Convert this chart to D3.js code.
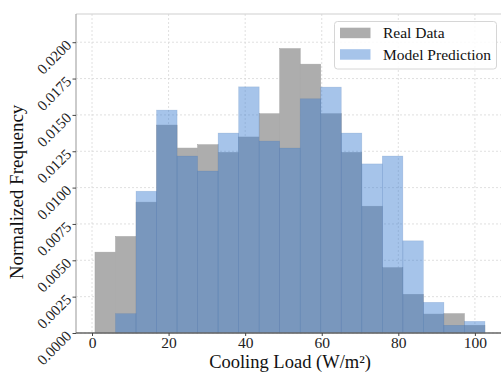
<!DOCTYPE html>
<html>
<head>
<meta charset="utf-8">
<script src="https://cdn.jsdelivr.net/npm/d3@7.9.0/dist/d3.min.js"></script>
<style>
  html, body { margin: 0; padding: 0; background: #fff; }
  svg { display: block; font-family: 'Liberation Serif', 'DejaVu Serif', serif; }
</style>
</head>
<body>
<div id="chart"></div>
<script>
// bin edges shared by both histograms
const binEdges = [0.78, 6.14, 11.50, 16.86, 22.22, 27.58, 32.94, 38.30, 43.66, 49.02,
  54.38, 59.74, 65.10, 70.46, 75.82, 81.18, 86.54, 91.90, 97.26, 102.62];
const realData = [0.00556, 0.00664, 0.0090, 0.0143, 0.01272, 0.01295, 0.01242, 0.01348, 0.01508, 0.01956,
  0.01849, 0.01508, 0.01242, 0.00872, 0.00449, 0.00266, 0.0013, 0.00133, 0.00053];
const modelPred = [0, 0.00133, 0.00975, 0.01533, 0.01217, 0.01114, 0.01375, 0.01693, 0.0132, 0.01272,
  0.01611, 0.01691, 0.01375, 0.01163, 0.01217, 0.00634, 0.00211, 0.00053, 0.0008];
const xTicks = [0, 20, 40, 60, 80, 100];
const yTicks = [0, 0.0025, 0.005, 0.0075, 0.01, 0.0125, 0.015, 0.0175, 0.02];
const seriesNames = ['Real Data', 'Model Prediction'];

const W = 501, H = 374;
const m = {left: 76, top: 14, right: 504, bottom: 333};

const svg = d3.select('#chart').append('svg')
  .attr('width', W).attr('height', H);

const x = d3.scaleLinear().domain([-4.18, 107.6]).range([m.left, m.right]);
const y = d3.scaleLinear().domain([0, 0.02194]).range([m.bottom, m.top]);

// grid
const grid = svg.append('g').attr('class', 'grid')
  .attr('stroke', '#d8d8d8').attr('stroke-width', 0.8).attr('stroke-dasharray', '2,2');
grid.selectAll('line.gx').data(xTicks).join('line')
  .attr('x1', d => x(d)).attr('x2', d => x(d))
  .attr('y1', m.top).attr('y2', m.bottom);
grid.selectAll('line.gy').data(yTicks).join('line')
  .attr('x1', m.left).attr('x2', m.right)
  .attr('y1', d => y(d)).attr('y2', d => y(d));

const bins = (vals) => vals.map((v, i) => ({x0: binEdges[i], x1: binEdges[i + 1], v}))
  .filter(d => d.v > 0);

svg.append('g').selectAll('rect').data(bins(realData)).join('rect')
  .attr('x', d => x(d.x0)).attr('width', d => x(d.x1) - x(d.x0))
  .attr('y', d => y(d.v)).attr('height', d => y(0) - y(d.v))
  .attr('fill', '#adadad')
  .attr('stroke', '#a3a3a3').attr('stroke-width', 0.5);

svg.append('g').selectAll('rect').data(bins(modelPred)).join('rect')
  .attr('x', d => x(d.x0)).attr('width', d => x(d.x1) - x(d.x0))
  .attr('y', d => y(d.v)).attr('height', d => y(0) - y(d.v))
  .attr('fill', 'rgb(62,127,209)').attr('fill-opacity', 0.46)
  .attr('stroke', 'rgba(62,110,170,0.25)').attr('stroke-width', 0.6);

// spines
svg.append('line').attr('x1', m.left).attr('x2', W).attr('y1', m.top).attr('y2', m.top)
  .attr('stroke', '#cfcfcf').attr('stroke-width', 1.2);
svg.append('line').attr('x1', m.left).attr('x2', m.left).attr('y1', m.top).attr('y2', m.bottom)
  .attr('stroke', '#a8a8a8').attr('stroke-width', 1.2);
svg.append('line').attr('x1', m.left).attr('x2', W).attr('y1', m.bottom).attr('y2', m.bottom)
  .attr('stroke', '#666').attr('stroke-width', 1.5);

// x axis
const xAxis = svg.append('g').attr('transform', `translate(0,${m.bottom})`)
  .call(d3.axisBottom(x).tickValues(xTicks).tickSize(3).tickPadding(1).tickFormat(d3.format('d')));
xAxis.select('.domain').remove();
xAxis.selectAll('.tick line').attr('stroke', '#444');
xAxis.selectAll('.tick text').attr('font-family', 'Liberation Serif, serif')
  .attr('font-size', 15.5).attr('fill', '#222');

// y axis
const yAxis = svg.append('g').attr('transform', `translate(${m.left},0)`)
  .call(d3.axisLeft(y).tickValues(yTicks).tickSize(3.5).tickFormat(d3.format('.4f')));
yAxis.select('.domain').remove();
yAxis.selectAll('.tick line').attr('stroke', '#444');
yAxis.selectAll('.tick text')
  .attr('font-family', 'Liberation Serif, serif').attr('font-size', 15).attr('fill', '#222')
  .attr('x', -7).attr('dy', '0.32em').attr('text-anchor', 'end')
  .attr('transform', 'rotate(-45,-7,0)');

// axis titles
svg.append('text').attr('x', 290).attr('y', 368).attr('text-anchor', 'middle')
  .attr('font-size', 18.5).attr('fill', '#111').text('Cooling Load (W/m²)');
svg.append('text').attr('transform', 'translate(23,192) rotate(-90)').attr('text-anchor', 'middle')
  .attr('font-size', 19).attr('fill', '#111').text('Normalized Frequency');

// legend
const lg = svg.append('g');
lg.append('rect').attr('x', 334.5).attr('y', 21.5).attr('width', 162).attr('height', 47.5)
  .attr('rx', 3).attr('fill', 'rgba(255,255,255,0.85)').attr('stroke', '#d6d6d6');
const items = lg.selectAll('g.item').data(seriesNames).join('g')
  .attr('transform', (d, i) => `translate(340,${27.7 + i * 21.5})`);
items.append('rect').attr('width', 30.5).attr('height', 10.5)
  .attr('fill', (d, i) => i === 0 ? '#adadad' : 'rgb(62,127,209)')
  .attr('fill-opacity', (d, i) => i === 0 ? 1 : 0.46);
items.append('text').attr('x', 43).attr('y', 10.5).attr('font-size', 15.5).attr('fill', '#111')
  .text(d => d);
</script>
</body>
</html>
